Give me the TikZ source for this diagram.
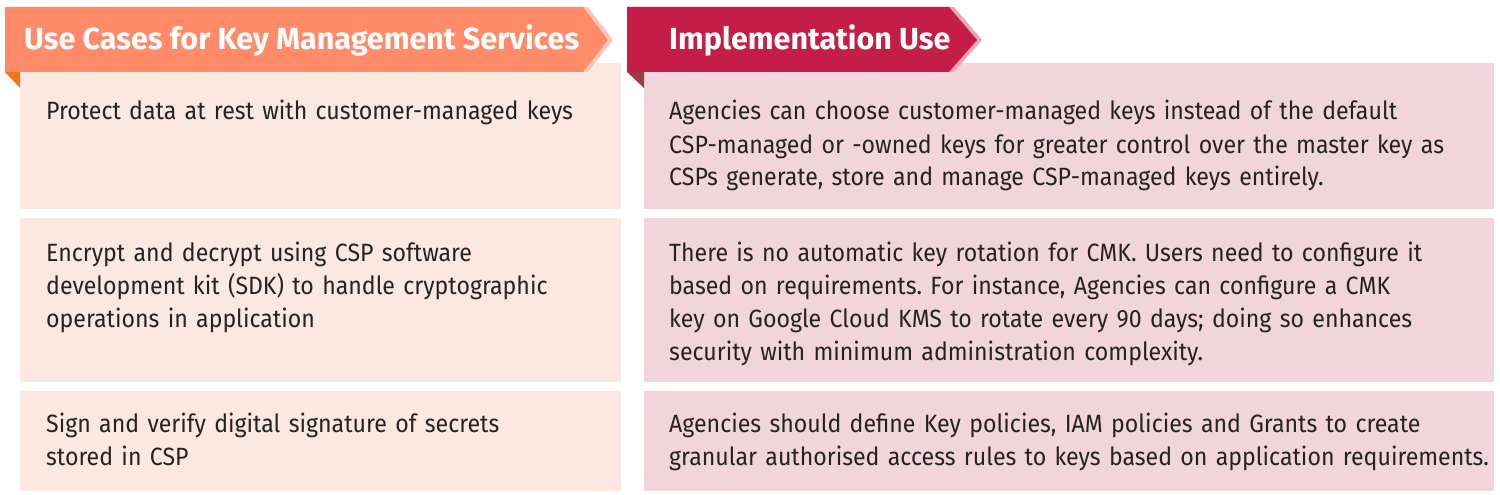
\documentclass[tikz,border=0pt]{standalone}
\usepackage{fontspec}
\setmainfont{Fira Sans}
\newfontfamily\bodyfont[FakeStretch=0.925]{Fira Sans}
\newfontfamily\headfont{Fira Sans}
\frenchspacing
\definecolor{bannerA}{RGB}{255,139,104}
\definecolor{shadowA}{RGB}{255,198,180}
\definecolor{foldA}{RGB}{245,118,20}
\definecolor{boxA}{RGB}{253,231,225}
\definecolor{bannerB}{RGB}{196,30,72}
\definecolor{shadowB}{RGB}{234,164,182}
\definecolor{foldB}{RGB}{150,62,66}
\definecolor{boxB}{RGB}{242,212,219}
\definecolor{txt}{RGB}{35,35,35}
\begin{document}
\begin{tikzpicture}[x=1pt,y=-1pt,
  cell/.style={anchor=base west,inner sep=0pt,text width=840pt,align=left,
    font=\bodyfont\frenchspacing\fontsize{25}{33}\selectfont,text=txt},
  head/.style={anchor=base west,inner sep=0pt,
    font=\headfont\bfseries\fontsize{30.5}{32}\selectfont,text=white}]
\useasboundingbox (0,0) rectangle (1500,495);
\fill[white] (0,0) rectangle (1500,495);
% boxes
\fill[boxA] (20,63) rectangle (621,209);
\fill[boxA] (20,218) rectangle (621,382);
\fill[boxA] (20,391) rectangle (621,491);
\fill[boxB] (644,63) rectangle (1494,209);
\fill[boxB] (644,218) rectangle (1494,382);
\fill[boxB] (644,391) rectangle (1494,491);
% banners
\fill[shadowA] (10,7) -- (588,7) -- (613,40) -- (588,72) -- (10,72) -- cycle;
\fill[bannerA] (5,7) -- (583,7) -- (608,40) -- (583,72) -- (5,72) -- cycle;
\fill[foldA] (5,72) -- (20,72) -- (20,88) -- cycle;
\fill[shadowB] (632,7) -- (954,7) -- (982,40) -- (954,72) -- (632,72) -- cycle;
\fill[bannerB] (627,7) -- (949,7) -- (977,40) -- (949,72) -- (627,72) -- cycle;
\fill[foldB] (627,72) -- (644,72) -- (644,88) -- cycle;
% headings
\node[head] (hA) at (24,50) {Use Cases for Key Management Services};
\node[head] (hB) at (669,50) {Implementation Use};
% left cells
\node[cell] (a1) at (46,120) {Protect data at rest with customer-managed keys};
\node[cell] (a2) at (46,261) {Encrypt and decrypt using CSP software\\development kit (SDK) to handle cryptographic\\operations in application};
\node[cell] (a3) at (46,432) {Sign and verify digital signature of secrets\\stored in CSP};
% right cells
\node[cell] (b1) at (669,120) {Agencies can choose customer-managed keys instead of the default\\CSP-managed or -owned keys for greater control over the master key as\\CSPs generate, store and manage CSP-managed keys entirely.};
\node[cell] (b2) at (669,261) {There is no automatic key rotation for CMK. Users need to configure it\\based on requirements. For instance, Agencies can configure a CMK\\key on Google Cloud KMS to rotate every 90 days; doing so enhances\\security with minimum administration complexity.};
\node[cell] (b3) at (669,432) {Agencies should define Key policies, IAM policies and Grants to create\\granular authorised access rules to keys based on application requirements.};
\end{tikzpicture}
\end{document}
